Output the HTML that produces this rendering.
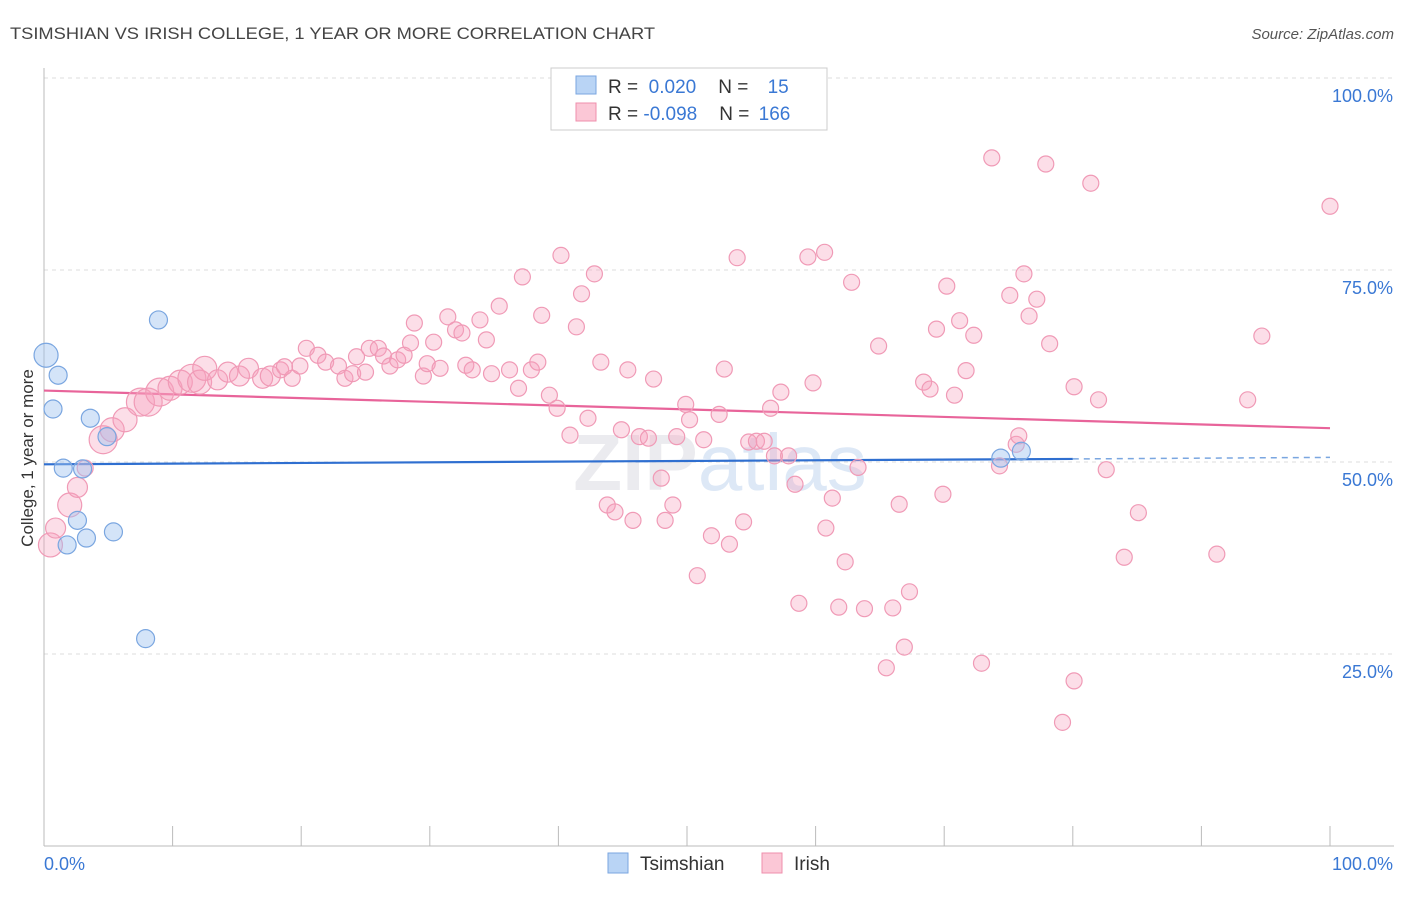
<!DOCTYPE html>
<html><head><meta charset="utf-8">
<style>
body{margin:0;background:#fff;font-family:"Liberation Sans",sans-serif;}
svg text{font-family:"Liberation Sans",sans-serif;}
</style></head>
<body>
<svg id="chart" width="1406" height="892" viewBox="0 0 1406 892" xmlns="http://www.w3.org/2000/svg">
<text x="10" y="39" font-size="17" fill="#444" textLength="645" lengthAdjust="spacingAndGlyphs">TSIMSHIAN VS IRISH COLLEGE, 1 YEAR OR MORE CORRELATION CHART</text>
<text x="1394" y="39" font-size="15" fill="#555" text-anchor="end" font-style="italic">Source: ZipAtlas.com</text>
<text transform="translate(33,458) rotate(-90)" font-size="17" fill="#333" text-anchor="middle">College, 1 year or more</text>
<text x="720" y="490" font-size="80" fill="#ebebef" text-anchor="middle" font-weight="bold">ZIP<tspan fill="#dde8f6" font-weight="normal">atlas</tspan></text>
<g id="grid"></g>
<g id="axes"></g>
<g id="trends"></g>
<g id="pts"></g>
<g>
<rect x="551" y="68" width="276" height="62" fill="#fff" stroke="#ccc"/>
<rect x="576" y="76" width="20" height="18" fill="#b9d4f5" stroke="#7aa6e0"/>
<rect x="576" y="103" width="20" height="18" fill="#fbc7d6" stroke="#ef8fac"/>
<text x="608" y="93" font-size="19" fill="#333">R = <tspan fill="#3a78d4">&#160;0.020</tspan><tspan dx="22">N = </tspan><tspan fill="#3a78d4" dx="14">15</tspan></text>
<text x="608" y="120" font-size="19" fill="#333">R = <tspan fill="#3a78d4">-0.098</tspan><tspan dx="22">N = </tspan><tspan fill="#3a78d4" dx="4">166</tspan></text>
</g>
<g>
<rect x="608" y="853" width="20" height="20" fill="#b9d4f5" stroke="#7aa6e0"/>
<text x="640" y="870" font-size="19" fill="#333">Tsimshian</text>
<rect x="762" y="853" width="20" height="20" fill="#fbc7d6" stroke="#ef8fac"/>
<text x="794" y="870" font-size="19" fill="#333">Irish</text>
</g>
</svg>
<script>
const xTicks=[0,10,20,30,40,50,60,70,80,90,100];
const yTicks=[25,50,75,100];
const yTickLabels=["25.0%","50.0%","75.0%","100.0%"];
const blueX=[0.16,1.1,0.7,1.5,3.6,3.0,2.6,1.8,3.3,4.9,5.4,8.9,7.9,74.4,76.0];
const blueY=[63.9,61.3,56.9,49.2,55.7,49.1,42.4,39.2,40.1,53.3,40.9,68.5,27.0,50.5,51.4];
const blueSize=[12,9,9,9,9,9,9,9,9,9,9,9,9,9,9];
const pinkX=[0.5,0.9,2.0,2.6,3.2,4.6,5.3,6.3,7.5,8.1,9.0,9.8,10.6,11.5,12.1,12.5,13.5,14.3,15.2,15.9,17.0,17.6,18.4,19.3,19.9,18.7,20.4,21.3,21.9,22.9,23.4,24.0,25.0,24.3,25.3,26.0,26.4,26.9,27.5,28.0,28.5,28.8,29.5,29.8,30.3,30.8,31.4,32.0,32.5,32.8,33.3,33.9,34.4,34.8,35.4,36.2,36.9,37.2,37.9,38.4,38.7,39.3,39.9,40.2,40.9,41.4,41.8,42.3,42.8,43.3,43.8,44.4,44.9,45.4,45.8,46.3,47.0,47.4,48.0,48.3,48.9,49.2,49.9,50.2,50.8,51.3,51.9,52.5,52.9,53.3,53.9,54.4,54.8,55.4,56.0,56.5,56.8,57.3,57.9,58.4,58.7,59.4,59.8,60.7,60.8,61.3,61.8,62.3,62.8,63.3,63.8,64.9,65.5,66.0,66.5,66.9,67.3,68.4,68.9,69.4,69.9,70.2,70.8,71.2,71.7,72.3,72.9,73.7,74.3,75.1,75.6,75.8,76.2,76.6,77.2,77.9,78.2,79.2,80.1,80.1,81.4,82.0,82.6,84.0,85.1,91.2,93.6,94.7,100.0];
const pinkY=[39.2,41.4,44.4,46.7,49.2,52.9,54.2,55.5,57.8,57.8,59.1,59.6,60.4,60.9,60.4,62.2,60.7,61.7,61.2,62.2,60.9,61.2,62.0,60.9,62.5,62.4,64.8,63.9,63.0,62.5,60.9,61.5,61.7,63.7,64.8,64.8,63.8,62.5,63.3,63.9,65.5,68.1,61.2,62.8,65.6,62.2,68.9,67.2,66.8,62.6,62.0,68.5,65.9,61.5,70.3,62.0,59.6,74.1,62.0,63.0,69.1,58.7,57.0,76.9,53.5,67.6,71.9,55.7,74.5,63.0,44.4,43.5,54.2,62.0,42.4,53.3,53.1,60.8,47.9,42.4,44.4,53.3,57.5,55.5,35.2,52.9,40.4,56.2,62.1,39.3,76.6,42.2,52.6,52.7,52.7,57.0,50.8,59.1,50.8,47.1,31.6,76.7,60.3,77.3,41.4,45.3,31.1,37.0,73.4,49.3,30.9,65.1,23.2,31.0,44.5,25.9,33.1,60.4,59.5,67.3,45.8,72.9,58.7,68.4,61.9,66.5,23.8,89.6,49.5,71.7,52.3,53.4,74.5,69.0,71.2,88.8,65.4,16.1,59.8,21.5,86.3,58.1,49.0,37.6,43.4,38.0,58.1,66.4,83.3];
const pinkSize=[12,10,12,10,8,14,12,12,14,14,14,12,12,14,12,12,10,10,10,10,10,10,8,8,8,8];
const blueTrend=[49.7,50.4,50.6];
const pinkTrend=[59.3,54.4];
const NS="http://www.w3.org/2000/svg";
const X0=44,X1=1330,Y0=846,Y100=78;
const sx=v=>X0+(X1-X0)*v/100;
const sy=v=>Y0-(Y0-Y100)*v/100;
function mk(tag,attrs,parent){const e=document.createElementNS(NS,tag);for(const k in attrs)e.setAttribute(k,attrs[k]);parent.appendChild(e);return e;}
const grid=document.getElementById('grid'),axes=document.getElementById('axes'),tr=document.getElementById('trends'),pts=document.getElementById('pts');
yTicks.forEach((t,i)=>{
 const l=mk('line',{x1:X0,x2:1394,y1:sy(t),y2:sy(t),stroke:'#ddd','stroke-dasharray':'4,4'},grid);
 
 
 const tx=mk('text',{x:1393,y:sy(t)+24,'font-size':18,fill:'#3a78d4','text-anchor':'end'},grid);
 tx.textContent=yTickLabels[i];
 
 
});
const ya=mk('line',{x1:X0,x2:X0,y1:68,y2:Y0,stroke:'#bbb'},axes);


const xa=mk('line',{x1:X0,x2:1394,y1:Y0,y2:Y0,stroke:'#bbb'},axes);


xTicks.forEach(t=>{
 const l=mk('line',{x1:sx(t),x2:sx(t),y1:Y0-20,y2:Y0,stroke:'#bbb'},axes);
 
 
});
const xl0=mk('text',{x:44,y:870,'font-size':18,fill:'#3a78d4'},axes);xl0.textContent='0.0%';


const xl1=mk('text',{x:1393,y:870,'font-size':18,fill:'#3a78d4','text-anchor':'end'},axes);xl1.textContent='100.0%';


pinkX.forEach((v,i)=>{
 const c=mk('circle',{cx:sx(v),cy:sy(pinkY[i]),r:pinkSize[i]||8,fill:'rgba(246,160,188,0.35)',stroke:'#f09ab6','stroke-width':1.2},pts);
 
 
});
blueX.forEach((v,i)=>{
 const c=mk('circle',{cx:sx(v),cy:sy(blueY[i]),r:blueSize[i],fill:'rgba(160,196,240,0.45)',stroke:'#7aa6e0','stroke-width':1.2},pts);
 
 
});
const pl=mk('line',{x1:sx(0),y1:sy(pinkTrend[0]),x2:sx(100),y2:sy(pinkTrend[1]),stroke:'#e8649a','stroke-width':2.2},tr);


const bl=mk('line',{x1:sx(0),y1:sy(blueTrend[0]),x2:sx(80),y2:sy(blueTrend[1]),stroke:'#2f6fd0','stroke-width':2.2},tr);


const bd=mk('line',{x1:sx(80),y1:sy(blueTrend[1]),x2:sx(100),y2:sy(blueTrend[2]),stroke:'#7aa6e0','stroke-width':1.5,'stroke-dasharray':'6,5'},tr);


</script>
</body></html>
